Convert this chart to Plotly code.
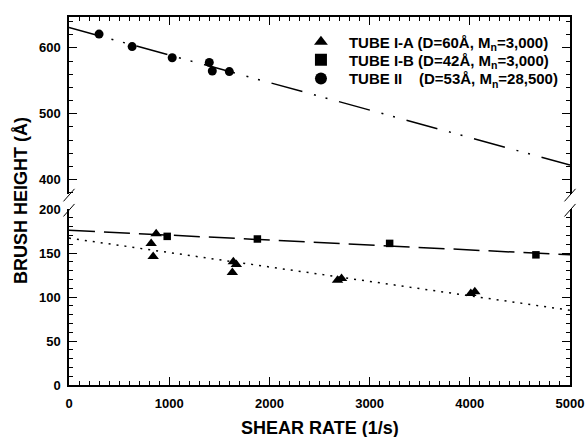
import plotly.graph_objects as go

# Data
tube_IA_x = [820, 870, 840, 1640, 1670, 1630, 2680, 2720, 4010, 4050]
tube_IA_y = [161, 172, 146, 140, 137, 128, 119, 121, 104, 106]
tube_IB_x = [980, 1880, 3200, 4660]
tube_IB_y = [169, 166, 161, 148]
tube_II_x = [300, 630, 1030, 1400, 1430, 1600]
tube_II_y = [621, 602, 585, 578, 565, 564]

# fitted lines (endpoints read at x=0 and x=5000)
fit_x = [0, 5000]
fit_IA_y = [167, 85]
fit_IB_y = [176, 148]
fit_II_y = [631, 422]

names = ["TUBE I-A (D=60Å, M<sub>n</sub>=3,000)",
         "TUBE I-B (D=42Å, M<sub>n</sub>=3,000)",
         "TUBE II\u00a0\u00a0\u00a0\u00a0(D=53Å, M<sub>n</sub>=28,500)"]

x_ticks = [0, 1000, 2000, 3000, 4000, 5000]

FONT = "Liberation Sans, Arial, sans-serif"
BLK = "black"

fig = go.Figure()

# fitted lines
fig.add_trace(go.Scatter(x=fit_x, y=fit_IA_y, mode="lines", showlegend=False,
                         line=dict(color=BLK, width=1.5, dash="2px,6px"),
                         xaxis="x", yaxis="y"))
fig.add_trace(go.Scatter(x=fit_x, y=fit_IB_y, mode="lines", showlegend=False,
                         line=dict(color=BLK, width=1.5, dash="26px,9px"),
                         xaxis="x", yaxis="y"))
fig.add_trace(go.Scatter(x=fit_x, y=fit_II_y, mode="lines", showlegend=False,
                         line=dict(color=BLK, width=1.5, dash="32px,12px,2px,10px,2px,12px"),
                         xaxis="x2", yaxis="y2"))

# markers
fig.add_trace(go.Scatter(x=tube_IA_x, y=tube_IA_y, mode="markers", name=names[0],
                         marker=dict(symbol="triangle-up", size=10, color=BLK),
                         xaxis="x", yaxis="y", legend="legend"))
fig.add_trace(go.Scatter(x=tube_IB_x, y=tube_IB_y, mode="markers", name=names[1],
                         marker=dict(symbol="square", size=7.5, color=BLK),
                         xaxis="x", yaxis="y", legend="legend2"))
fig.add_trace(go.Scatter(x=tube_II_x, y=tube_II_y, mode="markers", name=names[2],
                         marker=dict(symbol="circle", size=9, color=BLK),
                         xaxis="x2", yaxis="y2", legend="legend3"))

tickfont = dict(family=FONT, size=13, color=BLK, weight="bold")
common_x = dict(range=[0, 5000], showline=True, linecolor=BLK, linewidth=1.5,
                ticks="inside", ticklen=8, tickwidth=1.2, tickcolor=BLK,
                tickvals=x_ticks, showgrid=False, zeroline=False, automargin=False,
                minor=dict(dtick=100, ticks="inside", ticklen=4, tickcolor=BLK, tickwidth=1, showgrid=False))
common_y = dict(showline=True, linecolor=BLK, linewidth=1.5, mirror="ticks",
                ticks="inside", ticklen=8, tickwidth=1.2, tickcolor=BLK, automargin=False,
                showgrid=False, zeroline=False, tickfont=tickfont, ticklabelstandoff=4)

BOT_TOP = 0.478
TOP_BOT = 0.519

leg_common = dict(x=0.447, xanchor="left", yanchor="middle",
                  bgcolor="rgba(0,0,0,0)", borderwidth=0, itemwidth=46,
                  font=dict(family=FONT, size=15, color=BLK, weight="bold"),
                  itemsizing="constant")

fig.update_layout(
    width=586, height=437,
    margin=dict(l=69, r=16, t=17, b=52),
    paper_bgcolor="white", plot_bgcolor="white",
    font=dict(family=FONT, color=BLK),
    xaxis=dict(**common_x, anchor="y", side="bottom", tickfont=tickfont, ticklabelstandoff=6),
    xaxis2=dict(**common_x, anchor="y2", side="top", showticklabels=False, matches="x"),
    yaxis=dict(**common_y, domain=[0, BOT_TOP], range=[0, 200], dtick=50,
               minor=dict(dtick=10, ticks="inside", ticklen=4, tickcolor=BLK, tickwidth=1, showgrid=False)),
    yaxis2=dict(**common_y, domain=[TOP_BOT, 1], range=[378, 647], dtick=100,
                minor=dict(dtick=20, ticks="inside", ticklen=4, tickcolor=BLK, tickwidth=1, showgrid=False)),
    legend=dict(**leg_common, y=0.932),
    legend2=dict(**leg_common, y=0.883),
    legend3=dict(**leg_common, y=0.832),
    showlegend=True,
)

# axis titles
fig.add_annotation(text="SHEAR RATE (1/s)", xref="paper", yref="paper", x=0.5, y=0,
                   yshift=-43, showarrow=False, xanchor="center", yanchor="middle",
                   font=dict(family=FONT, size=18, color=BLK, weight="bold"))
fig.add_annotation(text="BRUSH HEIGHT (Å)", xref="paper", yref="paper", x=0, y=0.5,
                   xshift=-48, showarrow=False, textangle=-90, xanchor="center", yanchor="middle",
                   font=dict(family=FONT, size=18, color=BLK, weight="bold"))

# axis break marks
dx, dy = 0.011, 0.017
for xp in (0, 1):
    for yc in (TOP_BOT - 0.003, BOT_TOP - 0.003):
        fig.add_shape(type="line", xref="paper", yref="paper",
                      x0=xp - dx, y0=yc - dy, x1=xp + dx, y1=yc + dy,
                      line=dict(color=BLK, width=1))

fig.write_html("out.html")
